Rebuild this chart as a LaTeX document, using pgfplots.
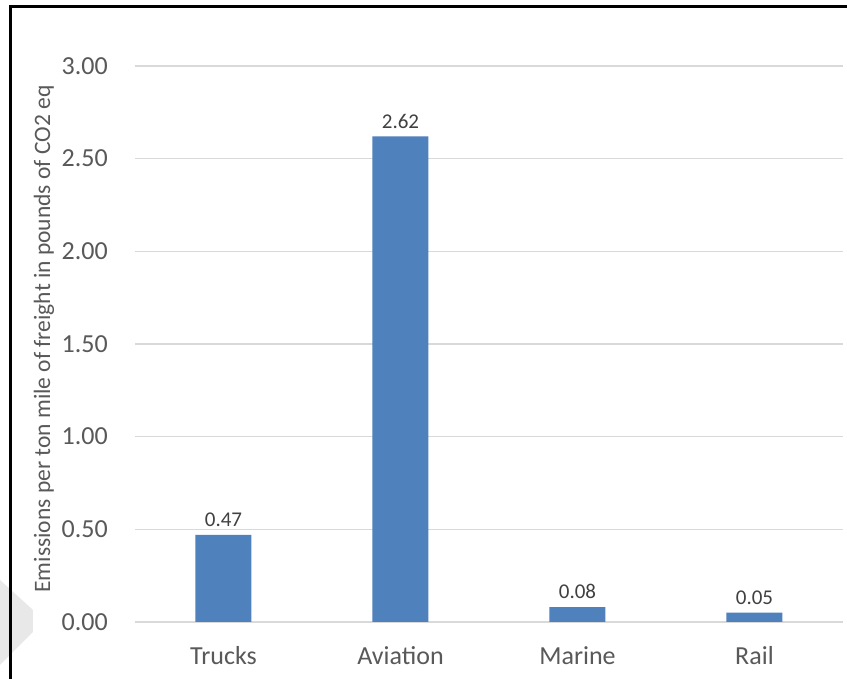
\documentclass[border=0pt]{standalone}
\usepackage{pgfplots}
\pgfplotsset{compat=1.18}
\usepackage{fontspec}
\setmainfont{Carlito}
\definecolor{barblue}{HTML}{4F81BD}
\definecolor{gridgray}{HTML}{D9D9D9}
\definecolor{ticktext}{HTML}{595959}
\definecolor{labeltext}{HTML}{404040}
\begin{document}
\begin{tikzpicture}
\fill[white] (-135pt,-57pt) rectangle (712pt,622pt);
\fill[black!9] (-135pt,42pt) -- (-102pt,12pt) -- (-102pt,-10pt) -- (-135pt,-43pt) -- cycle;
\fill[black] (-126pt,-57pt) rectangle (-123pt,617pt);
\fill[black] (-126pt,614pt) rectangle (712pt,617pt);
\begin{axis}[
  at={(0pt,0pt)}, anchor=south west,
  scale only axis,
  width=708pt, height=556pt,
  xmin=-0.5, xmax=3.5,
  ymin=0, ymax=3,
  ytick={0,0.5,1,1.5,2,2.5,3},
  xtick=data,
  xticklabels={Trucks,Aviation,Marine,Rail},
  axis line style={draw=none},
  major tick length=0pt,
  ymajorgrids,
  grid style={gridgray, line width=1.2pt},
  /pgf/number format/assume math mode=true,
  yticklabel style={/pgf/number format/fixed, /pgf/number format/fixed zerofill, /pgf/number format/precision=2, font=\fontsize{26}{30}\selectfont, text=ticktext, inner sep=0pt, xshift=-27pt},
  xticklabel style={font=\fontsize{26}{30}\selectfont, text=ticktext, inner sep=0pt, yshift=-24pt},
  ylabel={Emissions per ton mile of freight in pounds of CO2 eq},
  ylabel style={font=\fontsize{23.5}{28}\selectfont, text=ticktext, at={(axis description cs:-0.1285,0.509)}, anchor=center},
  nodes near coords,
  nodes near coords style={font=\fontsize{21}{25}\selectfont, text=labeltext, /pgf/number format/fixed, /pgf/number format/fixed zerofill, /pgf/number format/precision=2, /pgf/number format/assume math mode=true, inner sep=0pt, yshift=8pt, anchor=south},
  clip=false,
]
\addplot[ybar, bar width=56pt, fill=barblue, draw=none] coordinates {(0,0.47) (1,2.62) (2,0.08) (3,0.05)};
\end{axis}
\pgfresetboundingbox
\path (-135pt,-57pt) rectangle (712pt,622pt);
\end{tikzpicture}
\end{document}
